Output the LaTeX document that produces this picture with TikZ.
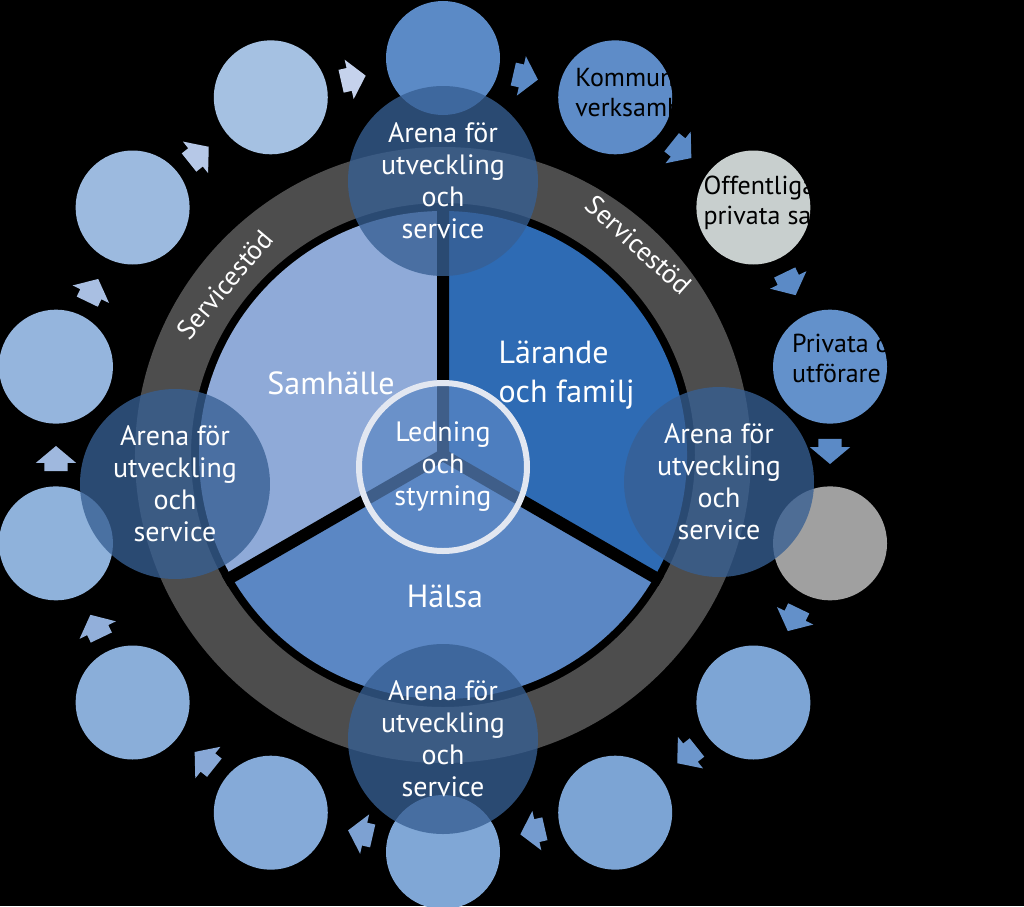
\documentclass[tikz,border=0pt]{standalone}
\usepackage{fontspec}
\setmainfont{PT Sans}
\usepackage{xcolor}
\usepackage{tikz}
\usetikzlibrary{calc,positioning,shapes.arrows}

\definecolor{ringgray}{RGB}{77,77,77}
\definecolor{samblue}{RGB}{143,170,216}
\definecolor{larblue}{RGB}{46,107,180}
\definecolor{halblue}{RGB}{91,135,196}
\definecolor{arenablue}{RGB}{55,95,147}
\definecolor{ledring}{RGB}{226,231,241}
\definecolor{arrowdark}{RGB}{91,138,198}
\definecolor{arrowlight}{RGB}{197,210,236}
\definecolor{cOne}{RGB}{91,138,198}
\definecolor{cTwo}{RGB}{94,140,200}
\definecolor{cThree}{RGB}{200,207,206}
\definecolor{cFour}{RGB}{99,145,203}
\definecolor{cFive}{RGB}{160,160,160}
\definecolor{cSix}{RGB}{125,165,213}
\definecolor{cSeven}{RGB}{124,164,212}
\definecolor{cEight}{RGB}{128,167,214}
\definecolor{cNine}{RGB}{133,170,216}
\definecolor{cTen}{RGB}{138,174,217}
\definecolor{cEleven}{RGB}{143,178,219}
\definecolor{cTwelve}{RGB}{149,181,221}
\definecolor{cThirteen}{RGB}{156,186,223}
\definecolor{cFourteen}{RGB}{165,193,226}

\begin{document}
\begin{tikzpicture}[x=1pt,y=1pt,
	stepcircle/.style={circle, inner sep=0pt, minimum size=114pt},
	flowarrow/.style={single arrow, inner xsep=7.5pt, inner ysep=11.5pt, minimum size=0pt, single arrow head extend=8.5pt, single arrow tip angle=100},
	arena/.style={circle, inner sep=0pt, minimum size=190pt, fill=arenablue, fill opacity=0.78, text opacity=1, text=white, align=center, font=\fontsize{28}{32}\selectfont},
	sectortext/.style={text=white, align=center, font=\fontsize{32}{39}\selectfont},
	servtext/.style={text=white, font=\fontsize{27}{30}\selectfont},
	outertext/.style={anchor=west, align=left, inner sep=0pt, text=black, font=\fontsize{26}{30}\selectfont}]

\useasboundingbox (-443,-451) rectangle (581,455);
\fill[black] (-443,-451) rectangle (581,455); % background

\fill[ringgray, even odd rule] (0,0) circle (308pt) (0,0) circle (252pt); % servicestod ring

\fill[samblue] (0,0) -- (90:244) arc[start angle=90, end angle=210, radius=244pt] -- cycle; % left sector
\fill[larblue] (0,0) -- (-30:244) arc[start angle=-30, end angle=90, radius=244pt] -- cycle; % right sector
\fill[halblue] (0,0) -- (210:244) arc[start angle=210, end angle=330, radius=244pt] -- cycle; % bottom sector
\draw[black, line width=12pt] (90:252) -- (0,0) -- (210:252) (0,0) -- (330:252);

% outer circles
\node[stepcircle, fill=cOne] (c1) at (90:397) {};
\node[stepcircle, fill=cTwo] (c2) at (64.29:397) {};
\node[stepcircle, fill=cThree] (c3) at (38.57:397) {};
\node[stepcircle, fill=cFour] (c4) at (12.86:397) {};
\node[stepcircle, fill=cFive] (c5) at (-12.86:397) {};
\node[stepcircle, fill=cSix] (c6) at (-38.57:397) {};
\node[stepcircle, fill=cSeven] (c7) at (-64.29:397) {};
\node[stepcircle, fill=cEight] (c8) at (-90:397) {};
\node[stepcircle, fill=cNine] (c9) at (-115.71:397) {};
\node[stepcircle, fill=cTen] (c10) at (-141.43:397) {};
\node[stepcircle, fill=cEleven] (c11) at (-167.14:397) {};
\node[stepcircle, fill=cTwelve] (c12) at (167.14:397) {};
\node[stepcircle, fill=cThirteen] (c13) at (141.43:397) {};
\node[stepcircle, fill=cFourteen] (c14) at (115.71:397) {};

% block arrows between the circles
\node[flowarrow, fill=arrowdark, rotate=-12.86] (a1) at ($(c1)!0.5!(c2)!8.5pt!(c1)$) {};
\node[flowarrow, fill=arrowdark, rotate=-38.57] (a2) at ($(c2)!0.5!(c3)!8.5pt!(c2)$) {};
\node[flowarrow, fill=arrowdark, rotate=-64.29] (a3) at ($(c3)!0.5!(c4)!8.5pt!(c3)$) {};
\node[flowarrow, fill=arrowdark, rotate=-90] (a4) at ($(c4)!0.5!(c5)!8.5pt!(c4)$) {};
\node[flowarrow, fill=arrowlight!8!arrowdark, rotate=-115.71] (a5) at ($(c5)!0.5!(c6)!8.5pt!(c5)$) {};
\node[flowarrow, fill=arrowlight!16!arrowdark, rotate=-141.43] (a6) at ($(c6)!0.5!(c7)!8.5pt!(c6)$) {};
\node[flowarrow, fill=arrowlight!24!arrowdark, rotate=-167.14] (a7) at ($(c7)!0.5!(c8)!8.5pt!(c7)$) {};
\node[flowarrow, fill=arrowlight!32!arrowdark, rotate=167.14] (a8) at ($(c8)!0.5!(c9)!8.5pt!(c8)$) {};
\node[flowarrow, fill=arrowlight!42!arrowdark, rotate=141.43] (a9) at ($(c9)!0.5!(c10)!8.5pt!(c9)$) {};
\node[flowarrow, fill=arrowlight!52!arrowdark, rotate=115.71] (a10) at ($(c10)!0.5!(c11)!8.5pt!(c10)$) {};
\node[flowarrow, fill=arrowlight!64!arrowdark, rotate=90] (a11) at ($(c11)!0.5!(c12)!8.5pt!(c11)$) {};
\node[flowarrow, fill=arrowlight!74!arrowdark, rotate=64.29] (a12) at ($(c12)!0.5!(c13)!8.5pt!(c12)$) {};
\node[flowarrow, fill=arrowlight!86!arrowdark, rotate=38.57] (a13) at ($(c13)!0.5!(c14)!8.5pt!(c13)$) {};
\node[flowarrow, fill=arrowlight, rotate=12.86] (a14) at ($(c14)!0.5!(c1)!8.5pt!(c14)$) {};

\node[outertext] (kommun) at ([shift={(-40,5)}]c2.center) {Kommunens egna\\verksamheter};
\node[outertext] (offentliga) at ([shift={(-50,5)}]c3.center) {Offentliga, ideella och\\privata samarbetspartners};
\node[outertext] (privata) at ([shift={(-38,8)}]c4.center) {Privata och ideella\\utförare};

\node[circle, inner sep=0pt, minimum size=168pt, fill=halblue, fill opacity=0.7, draw=ledring, line width=6pt, text opacity=1, text=white, align=center, font=\fontsize{28}{32}\selectfont] (ledning) at (0,-12) {Ledning\\och\\styrning};

\node[arena] (arenaN) at (0,274) {Arena för\\utveckling\\och\\service};
\node[arena] (arenaW) at (-268,-29) {Arena för\\utveckling\\och\\service};
\node[arena] (arenaE) at (276,-27) {Arena för\\utveckling\\och\\service};
\node[arena] (arenaS) at (0,-284) {Arena för\\utveckling\\och\\service};

\node[sectortext] (samhalle) at (-112,72) {Samhälle};
\node[sectortext, anchor=west, align=left] (larande) at (52,80) {Lärande\\och familj};
\node[sectortext] (halsa) at (2,-141) {Hälsa};

\node[servtext, rotate=50] (servW) at (142:277) {Servicestöd};
\node[servtext, rotate=-42] (servE) at (47:287) {Servicestöd};

\end{tikzpicture}
\end{document}
